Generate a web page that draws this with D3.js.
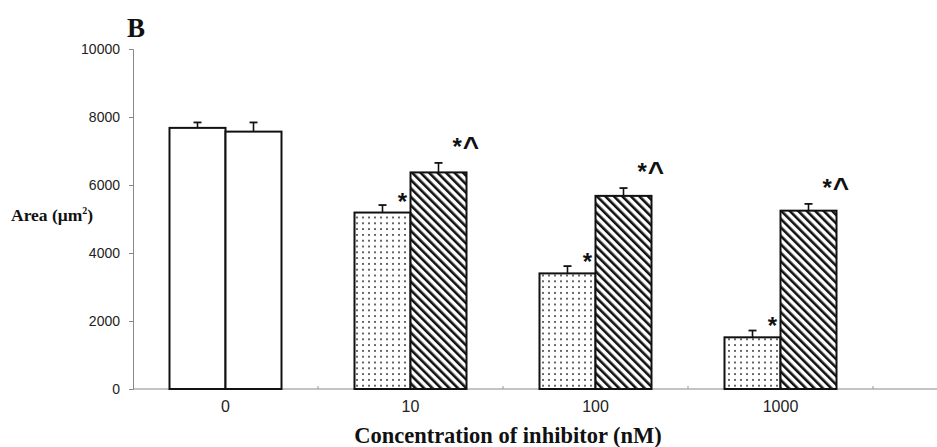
<!DOCTYPE html>
<html>
<head>
<meta charset="utf-8">
<script src="https://cdn.jsdelivr.net/npm/d3@7"></script>
<style>
  body { margin: 0; background: #fff; }
  svg { display: block; }
</style>
</head>
<body>
<svg id="chart" width="937" height="447"></svg>
<script>
'use strict';

// concentration categories (nM)
const CATEGORIES = ['0', '10', '100', '1000'];

// first bar of each pair (open for 0, dotted otherwise)
const SERIES_A = [7680, 5190, 3400, 1520];
const ERR_A = [160, 220, 215, 200];

// second bar of each pair (open for 0, hatched otherwise)
const SERIES_B = [7570, 6370, 5680, 5245];
const ERR_B = [270, 280, 230, 200];

// significance marks
const MARK_A = ['', '*', '*', '*'];
const MARK_B = ['', '*^', '*^', '*^'];

const Y_TICKS = [0, 2000, 4000, 6000, 8000, 10000];

window.addEventListener('DOMContentLoaded', () => {
    const svg = d3.select('#chart');
    const SANS = 'Liberation Sans, Arial, sans-serif';
    const SERIF = 'Liberation Serif, Times New Roman, serif';

    const xScale = d3.scaleBand().domain(CATEGORIES).range([133, 873]).paddingInner(0).paddingOuter(0);
    const yScale = d3.scaleLinear().domain([0, 10000]).range([389, 49]);
    const BAR_W = 56;

    // patterns
    const defs = svg.append('defs');
    const dots = defs.append('pattern')
        .attr('id', 'dots').attr('patternUnits', 'userSpaceOnUse')
        .attr('width', 6).attr('height', 5.8);
    dots.append('rect').attr('width', 6).attr('height', 5.8).attr('fill', '#fff');
    dots.append('circle').attr('cx', 3).attr('cy', 2.9).attr('r', 1).attr('fill', '#333');

    const hatch = defs.append('pattern')
        .attr('id', 'hatch').attr('patternUnits', 'userSpaceOnUse')
        .attr('width', 6).attr('height', 6)
        .attr('patternTransform', 'rotate(-45)');
    hatch.append('rect').attr('width', 6).attr('height', 6).attr('fill', '#fff');
    hatch.append('rect').attr('x', 0).attr('y', 0).attr('width', 2.6).attr('height', 6).attr('fill', '#111');

    // y axis
    const yAxis = d3.axisLeft(yScale).tickValues(Y_TICKS).tickSize(4).tickFormat(d3.format('d'));
    const gy = svg.append('g').attr('transform', 'translate(133,0)').call(yAxis);
    gy.select('.domain').attr('stroke', '#888');
    gy.selectAll('.tick line').attr('stroke', '#888');
    gy.selectAll('.tick text')
        .attr('x', -13)
        .attr('font-family', SANS)
        .attr('font-size', 14)
        .attr('fill', '#222');

    // x axis
    const xAxis = d3.axisBottom(xScale).tickSize(0).tickPadding(12);
    const gx = svg.append('g').attr('transform', 'translate(0,389)').call(xAxis);
    gx.select('.domain').remove();
    gx.selectAll('.tick text')
        .attr('font-family', SANS)
        .attr('font-size', 16)
        .attr('fill', '#222');
    svg.append('line')
        .attr('x1', 133).attr('x2', 937).attr('y1', 389).attr('y2', 389)
        .attr('stroke', '#888').attr('stroke-width', 1);
    const bounds = CATEGORIES.map((c) => xScale(c) + xScale.bandwidth());
    svg.append('g').selectAll('line').data(bounds).join('line')
        .attr('x1', (d) => d).attr('x2', (d) => d)
        .attr('y1', 386).attr('y2', 389)
        .attr('stroke', '#999');

    const center = (c) => xScale(c) + xScale.bandwidth() / 2;

    const rows = CATEGORIES.map((c, i) => ({
        cat: c, i,
        a: SERIES_A[i], ea: ERR_A[i], b: SERIES_B[i], eb: ERR_B[i],
        ma: MARK_A[i], mb: MARK_B[i],
    }));

    const bars = svg.append('g');
    rows.forEach((r) => {
        const cx = center(r.cat);
        const fillA = r.i === 0 ? '#fff' : 'url(#dots)';
        const fillB = r.i === 0 ? '#fff' : 'url(#hatch)';
        [[r.a, r.ea, cx - BAR_W, fillA], [r.b, r.eb, cx, fillB]].forEach(([v, e, x0, fill]) => {
            const xm = x0 + BAR_W / 2;
            // error bar
            bars.append('line')
                .attr('x1', xm).attr('x2', xm)
                .attr('y1', yScale(v)).attr('y2', yScale(v + e))
                .attr('stroke', '#111').attr('stroke-width', 1.6);
            bars.append('line')
                .attr('x1', xm - 4).attr('x2', xm + 4)
                .attr('y1', yScale(v + e)).attr('y2', yScale(v + e))
                .attr('stroke', '#111').attr('stroke-width', 1.8);
            bars.append('rect')
                .attr('x', x0).attr('y', yScale(v))
                .attr('width', BAR_W).attr('height', yScale(0) - yScale(v))
                .attr('fill', fill).attr('stroke', '#111').attr('stroke-width', 2);
        });
        if (r.ma) {
            svg.append('text')
                .attr('x', cx - 8).attr('y', yScale(r.a) - 3)
                .attr('text-anchor', 'middle')
                .attr('font-family', SANS)
                .attr('font-weight', 'bold').attr('font-size', 24)
                .attr('fill', '#111')
                .text(r.ma);
        }
        if (r.mb) {
            const t = svg.append('text')
                .attr('x', cx + BAR_W - 14).attr('y', yScale(r.b + r.eb) - 8)
                .attr('font-family', SANS)
                .attr('font-weight', 'bold').attr('font-size', 24)
                .attr('fill', '#111');
            t.append('tspan').text(r.mb.slice(0, 1));
            t.append('tspan').attr('font-size', 28).attr('dx', 1).attr('dy', 1).text(r.mb.slice(1));
        }
    });

    // titles
    svg.append('text')
        .attr('x', 127).attr('y', 37)
        .attr('font-family', SERIF)
        .attr('font-weight', 'bold').attr('font-size', 27)
        .attr('fill', '#111')
        .text('B');

    const ylab = svg.append('text')
        .attr('x', 11).attr('y', 221)
        .attr('font-family', SERIF)
        .attr('font-weight', 'bold').attr('font-size', 17.5)
        .attr('fill', '#111');
    ylab.append('tspan').text('Area (\u03bcm');
    ylab.append('tspan').attr('font-size', 10).attr('dy', -7).text('2');
    ylab.append('tspan').attr('dy', 7).text(')');

    svg.append('text')
        .attr('x', 508).attr('y', 443)
        .attr('text-anchor', 'middle')
        .attr('font-family', SERIF)
        .attr('font-weight', 'bold').attr('font-size', 22.5)
        .attr('fill', '#111')
        .text('Concentration of inhibitor (nM)');
});
</script>
</body>
</html>
